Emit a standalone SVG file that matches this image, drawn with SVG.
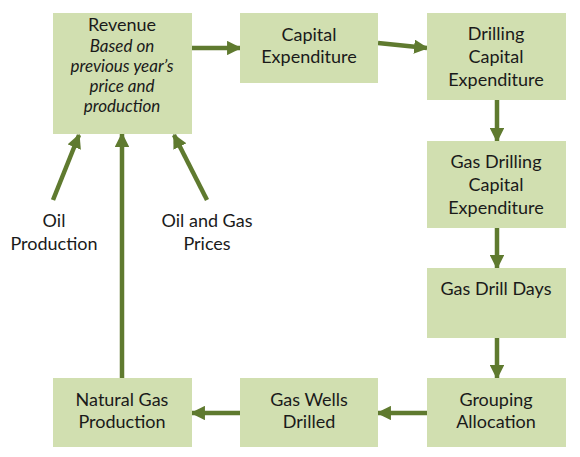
<svg xmlns="http://www.w3.org/2000/svg" width="580" height="457" viewBox="0 0 580 457">
<defs>
<style>
.box{fill:#d1dfb0;}
.t{font-family:Lato,"Open Sans","Liberation Sans",sans-serif;font-size:18px;fill:#1a1a1a;text-anchor:middle;}
.i{font-style:italic;font-size:17px;}
.c{stroke:#5f7a2f;stroke-width:4.5;fill:none;}
</style>
<marker id="ah" viewBox="0 0 10 10" refX="9" refY="5" markerWidth="3.2" markerHeight="3.2" markerUnits="strokeWidth" orient="auto">
<path d="M0,0 L10,5 L0,10 z" fill="#5f7a2f"/>
</marker>
</defs>
<rect width="580" height="457" fill="#ffffff"/>
<g id="connectors">
<line class="c" x1="192" y1="48" x2="240" y2="48" marker-end="url(#ah)"/>
<line class="c" x1="378" y1="43" x2="427" y2="48" marker-end="url(#ah)"/>
<line class="c" x1="497" y1="100" x2="497" y2="141" marker-end="url(#ah)"/>
<line class="c" x1="497" y1="228" x2="497" y2="268" marker-end="url(#ah)"/>
<line class="c" x1="497" y1="338" x2="497" y2="378" marker-end="url(#ah)"/>
<line class="c" x1="427" y1="413" x2="378" y2="413" marker-end="url(#ah)"/>
<line class="c" x1="240" y1="413" x2="192" y2="413" marker-end="url(#ah)"/>
<line class="c" x1="122" y1="379" x2="122" y2="134" marker-end="url(#ah)"/>
<line class="c" x1="53" y1="200" x2="79" y2="135" marker-end="url(#ah)"/>
<line class="c" x1="207" y1="200" x2="174" y2="135" marker-end="url(#ah)"/>
</g>
<g id="revenue">
<rect class="box" x="53" y="13" width="139" height="121"/>
<text class="t" x="122" y="31">Revenue</text>
<text class="t i" x="122" y="52">Based on</text>
<text class="t i" x="122" y="72">previous year’s</text>
<text class="t i" x="122" y="92">price and</text>
<text class="t i" x="122" y="112">production</text>
</g>
<g id="capex">
<rect class="box" x="240" y="13" width="138" height="70"/>
<text class="t" x="309" y="41">Capital</text>
<text class="t" x="309" y="63">Expenditure</text>
</g>
<g id="drilling-capex">
<rect class="box" x="427" y="13" width="139" height="87"/>
<text class="t" x="496" y="40">Drilling</text>
<text class="t" x="496" y="63">Capital</text>
<text class="t" x="496" y="86">Expenditure</text>
</g>
<g id="gas-drilling-capex">
<rect class="box" x="427" y="141" width="139" height="87"/>
<text class="t" x="496" y="168">Gas Drilling</text>
<text class="t" x="496" y="191">Capital</text>
<text class="t" x="496" y="214">Expenditure</text>
</g>
<g id="gas-drill-days">
<rect class="box" x="427" y="268" width="139" height="70"/>
<text class="t" x="496" y="295">Gas Drill Days</text>
</g>
<g id="grouping">
<rect class="box" x="427" y="378" width="139" height="69"/>
<text class="t" x="496" y="406">Grouping</text>
<text class="t" x="496" y="428">Allocation</text>
</g>
<g id="gas-wells">
<rect class="box" x="240" y="378" width="138" height="69"/>
<text class="t" x="309" y="406">Gas Wells</text>
<text class="t" x="309" y="428">Drilled</text>
</g>
<g id="natural-gas">
<rect class="box" x="53" y="378" width="139" height="69"/>
<text class="t" x="122" y="406">Natural Gas</text>
<text class="t" x="122" y="428">Production</text>
</g>
<g id="oil-production">
<text class="t" x="54" y="227">Oil</text>
<text class="t" x="54" y="250">Production</text>
</g>
<g id="oil-gas-prices">
<text class="t" x="207" y="227">Oil and Gas</text>
<text class="t" x="207" y="250">Prices</text>
</g>
</svg>
